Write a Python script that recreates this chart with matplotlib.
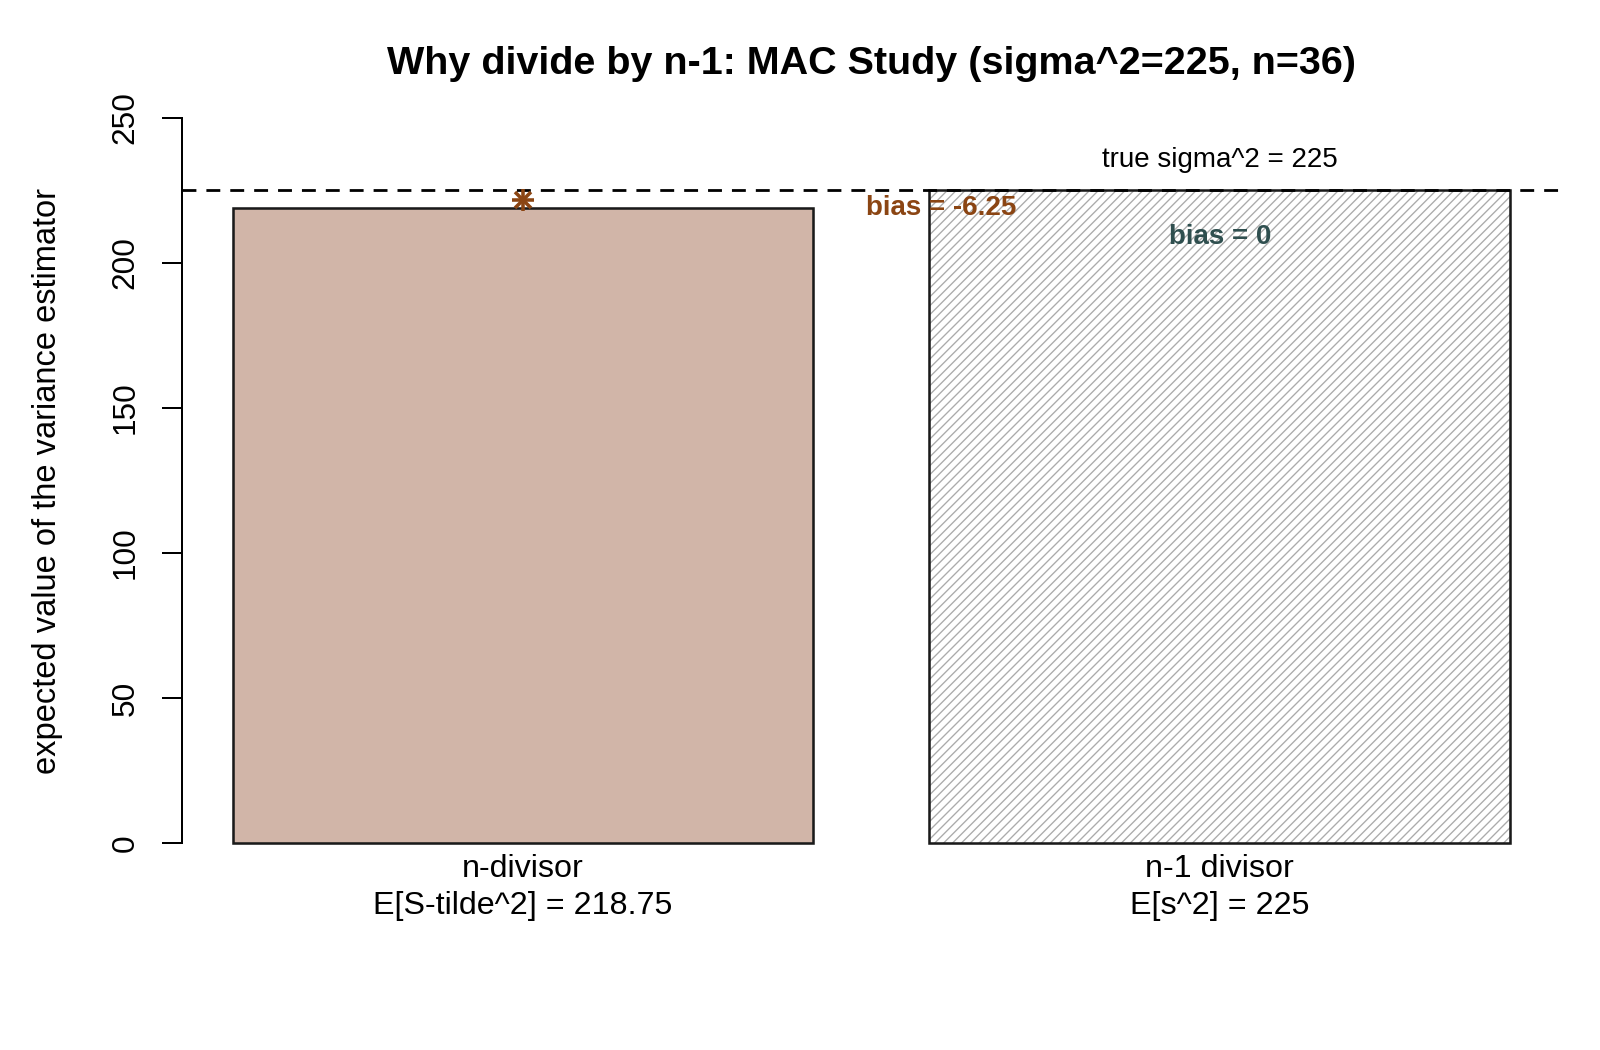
import numpy as np
import matplotlib.pyplot as plt

# values
sigma2 = 225
n = 36
divisor_names = ["n-divisor", "n-1 divisor"]
estimator_names = ["E[S-tilde^2]", "E[s^2]"]
expected = [218.75, 225.0]
bias = [-6.25, 0.0]
sim_mean_ndiv = 221.6   # asterisk above the n-divisor bar

BAR_FILL = "#D1B5A8"
BROWN = "#8B4513"
SLATE = "#2F4F4F"

plt.rcParams["font.family"] = ["Liberation Sans", "DejaVu Sans"]
plt.rcParams["hatch.linewidth"] = 1.2

fig = plt.figure(figsize=(20, 13.125), dpi=80)
ax = fig.add_axes([0.1135, 0.16924, 0.8622, 0.7462])

x = np.array([0.7, 1.9])
labels = [f"{nm}\n{est} = {v:g}" for nm, est, v in zip(divisor_names, estimator_names, expected)]

# left bar: plain fill
ax.bar(x[0], expected[0], width=1.0, color=BAR_FILL, edgecolor="#1a1a1a", linewidth=2.3, zorder=2)
# right bar: hatched, then outline on top
ax.bar(x[1], expected[1], width=1.0, color="white", edgecolor="#ABABAB", hatch="///", linewidth=0, zorder=2)
ax.bar(x[1], expected[1], width=1.0, fill=False, edgecolor="#1a1a1a", linewidth=2.3, zorder=3)

# true sigma^2 reference line
ax.axhline(sigma2, color="black", linewidth=2.5, dashes=(5.0, 3.6), zorder=4)
ax.annotate(f"true sigma^2 = {sigma2}", xy=(x[1], sigma2), xytext=(0, 21),
            textcoords="offset points", ha="center", va="baseline", fontsize=25)

# simulated mean marker
ax.plot([x[0]], [sim_mean_ndiv], marker="+", markersize=19, mew=3.2, color=BROWN, zorder=5)
ax.plot([x[0]], [sim_mean_ndiv], marker="x", markersize=14, mew=3.2, color=BROWN, zorder=5)

# bias labels
ax.text(1.42, 219, f"bias = {bias[0]:g}", ha="center", va="center", fontsize=25,
        fontweight="bold", color=BROWN, zorder=6)
ax.text(x[1], 209, f"bias = {bias[1]:g}", ha="center", va="center", fontsize=25,
        fontweight="bold", color=SLATE, zorder=6)

ax.set_xlim(0.112, 2.488)
ax.set_ylim(-10, 260)

ax.set_xticks(x)
ax.set_xticklabels(labels, fontsize=29, linespacing=1.3)
ax.tick_params(axis="x", length=0, pad=-16.5)

ax.set_yticks(np.arange(0, 251, 50))
ax.tick_params(axis="y", direction="out", length=18, width=1.8, labelsize=28.5, pad=19)
for lab in ax.get_yticklabels():
    lab.set_rotation(90)
    lab.set_verticalalignment("center")

for side in ["top", "right", "bottom"]:
    ax.spines[side].set_visible(False)
ax.spines["left"].set_bounds(0, 250)
ax.spines["left"].set_linewidth(1.8)

ax.set_title(f"Why divide by n-1: MAC Study (sigma^2={sigma2}, n={n})",
             fontsize=35.5, fontweight="bold", pad=13.2)
fig.text(48 / 1600, 1 - 480.5 / 1050, "expected value of the variance estimator",
         rotation=90, ha="center", va="center", fontsize=29.4)

fig.savefig("out.png", dpi=80)
